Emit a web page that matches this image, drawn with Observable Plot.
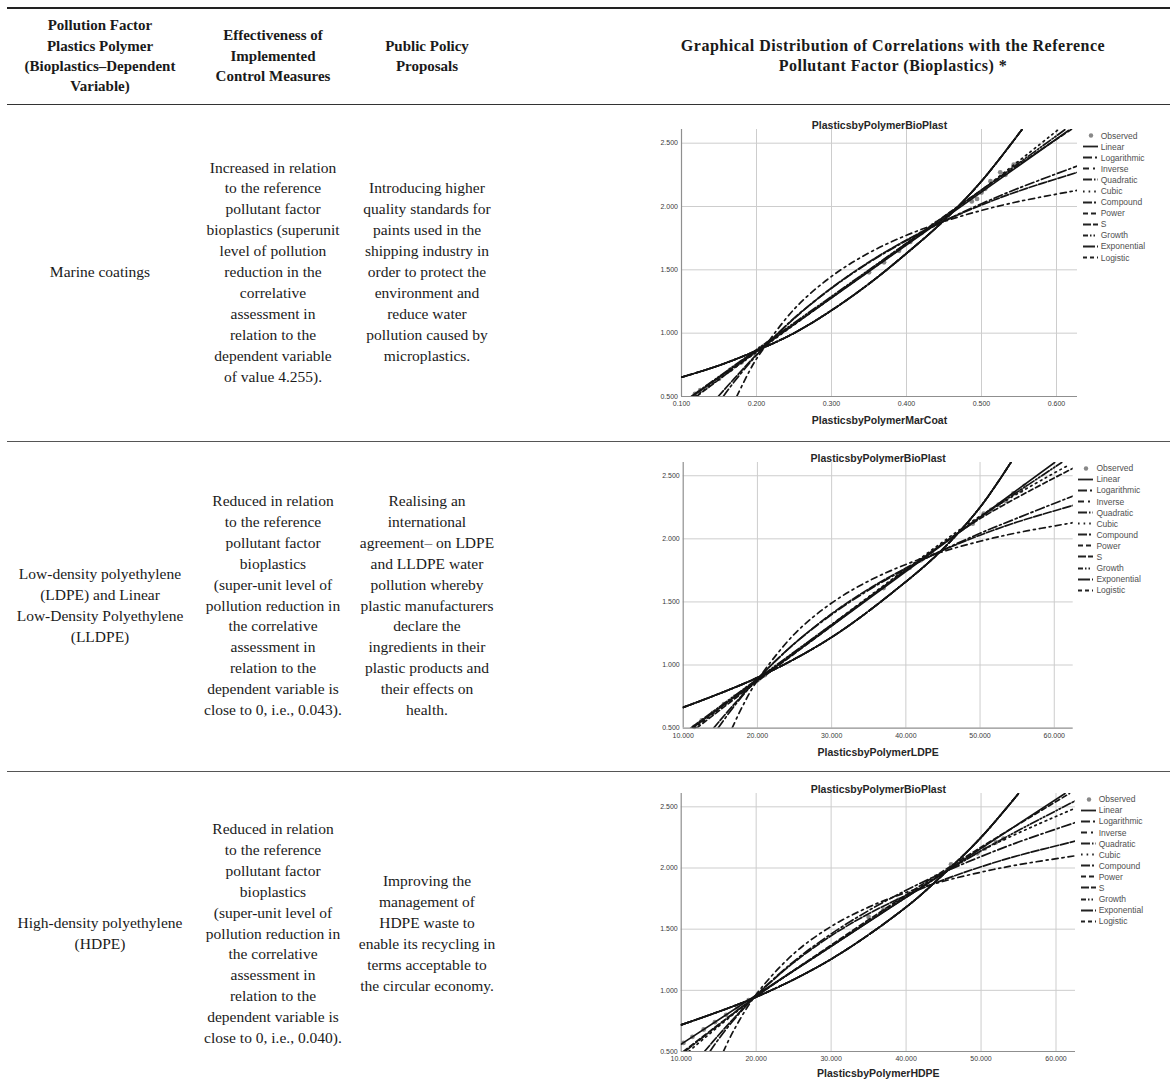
<!DOCTYPE html>
<html>
<head>
<meta charset="utf-8">
<script src="https://cdn.jsdelivr.net/npm/d3@7"></script>
<script src="https://cdn.jsdelivr.net/npm/@observablehq/plot@0.6"></script>
<style>
  html, body { margin: 0; padding: 0; background: #fff; }
  #page { position: relative; width: 1170px; height: 1089px; overflow: hidden; background: #fff; }
  .rule { position: absolute; left: 7px; right: 0; background: #222; }
  .cell {
    position: absolute; display: flex; align-items: center; justify-content: center;
    text-align: center; white-space: nowrap; color: #1a1a1a;
    font-family: "Liberation Serif", "Times New Roman", serif; font-size: 15.5px; line-height: 20.9px;
  }
  .head { font-weight: bold; font-size: 15px; line-height: 20.4px; }
  .wide { letter-spacing: 0.5px; font-size: 16px; }
  .chart { position: absolute; }
  .chart svg { overflow: visible; }
  .legend { position: absolute; font-family: "Liberation Sans", Arial, sans-serif; font-size: 8.5px; color: #505050; white-space: nowrap; }
  .legend .row { display: flex; align-items: center; height: 11.1px; }
  .legend svg { flex: none; }
</style>
</head>
<body>
<div id="page"></div>
<script>
// ---------- table text ----------
const headPollution = ["Pollution Factor", "Plastics Polymer", "(Bioplastics–Dependent", "Variable)"];
const headEffect = ["Effectiveness of", "Implemented", "Control Measures"];
const headPolicy = ["Public Policy", "Proposals"];
const headGraph = ["Graphical Distribution of Correlations with the Reference", "Pollutant Factor (Bioplastics) *"];

const factorNames = [
  ["Marine coatings"],
  ["Low-density polyethylene", "(LDPE) and Linear", "Low-Density Polyethylene", "(LLDPE)"],
  ["High-density polyethylene", "(HDPE)"]
];
const effectTexts = [
  ["Increased in relation", "to the reference", "pollutant factor", "bioplastics (superunit", "level of pollution", "reduction in the", "correlative", "assessment in", "relation to the", "dependent variable", "of value 4.255)."],
  ["Reduced in relation", "to the reference", "pollutant factor", "bioplastics", "(super-unit level of", "pollution reduction in", "the correlative", "assessment in", "relation to the", "dependent variable is", "close to 0, i.e., 0.043)."],
  ["Reduced in relation", "to the reference", "pollutant factor", "bioplastics", "(super-unit level of", "pollution reduction in", "the correlative", "assessment in", "relation to the", "dependent variable is", "close to 0, i.e., 0.040)."]
];
const policyTexts = [
  ["Introducing higher", "quality standards for", "paints used in the", "shipping industry in", "order to protect the", "environment and", "reduce water", "pollution caused by", "microplastics."],
  ["Realising an", "international", "agreement– on LDPE", "and LLDPE water", "pollution whereby", "plastic manufacturers", "declare the", "ingredients in their", "plastic products and", "their effects on", "health."],
  ["Improving the", "management of", "HDPE waste to", "enable its recycling in", "terms acceptable to", "the circular economy."]
];

// ---------- curve estimation results ----------
const modelNames = ["Linear", "Logarithmic", "Inverse", "Quadratic", "Cubic", "Compound", "Power", "S", "Growth", "Exponential", "Logistic"];
const bioPlastTicks = [0.5, 1, 1.5, 2, 2.5];

// Marine coatings
const marCoatTicks = [0.1, 0.2, 0.3, 0.4, 0.5, 0.6];
const marCoatObserved = [[0.118,0.52],[0.125,0.55],[0.135,0.58],[0.15,0.64],[0.165,0.71],[0.18,0.77],[0.195,0.84],[0.205,0.88],[0.215,0.92],[0.35,1.48],[0.37,1.56],[0.39,1.65],[0.405,1.72],[0.42,1.79],[0.435,1.85],[0.44,1.87],[0.487,2.04],[0.494,2.06],[0.5,2.11],[0.505,2.14],[0.512,2.2],[0.525,2.27],[0.532,2.25],[0.543,2.33],[0.548,2.34]];
const marCoatLinear = [[0.114,0.5],[0.616,2.6]];
const marCoatLogarithmic = [[0.1556,0.5],[0.17,0.614],[0.2,0.826],[0.25,1.118],[0.3,1.355],[0.35,1.557],[0.4,1.731],[0.45,1.885],[0.5,2.022],[0.55,2.146],[0.628,2.32]];
const marCoatInverse = [[0.1736,0.5],[0.19,0.694],[0.2,0.797],[0.25,1.188],[0.3,1.448],[0.35,1.634],[0.4,1.773],[0.45,1.882],[0.5,1.969],[0.55,2.04],[0.628,2.128]];
const marCoatQuadratic = [[0.113,0.5],[0.2,0.87],[0.3,1.29],[0.4,1.71],[0.5,2.13],[0.612,2.61]];
const marCoatCubic = [[0.118,0.5],[0.2,0.85],[0.3,1.28],[0.4,1.7],[0.5,2.13],[0.603,2.61]];
const marCoatPower = [[0.12,0.5],[0.2,0.855],[0.3,1.28],[0.4,1.71],[0.5,2.13],[0.62,2.61]];
const marCoatS = [[0.1489,0.5],[0.17,0.639],[0.2,0.83],[0.25,1.115],[0.3,1.357],[0.35,1.562],[0.4,1.736],[0.45,1.884],[0.5,2.012],[0.55,2.123],[0.628,2.27]];
const marCoatExponential = [[0.1,0.652],[0.15,0.745],[0.2,0.862],[0.25,1.0],[0.3,1.18],[0.35,1.39],[0.4,1.63],[0.45,1.89],[0.5,2.2],[0.554,2.608]];

// LDPE
const ldpeTicks = [10, 20, 30, 40, 50, 60];
const ldpeObserved = [[11.5,0.51],[12.5,0.56],[14,0.62],[15.5,0.69],[17,0.75],[18.5,0.81],[20,0.88],[21,0.92],[37,1.61],[39,1.72],[40.5,1.77],[42,1.83],[43.5,1.89],[49,2.12],[50.5,2.2],[51.5,2.23],[52.5,2.27],[53.5,2.3],[54.5,2.36],[55.5,2.38],[56,2.42]];
const ldpeLinear = [[11.2,0.5],[60.05,2.605]];
const ldpeLogarithmic = [[14.7,0.5],[17,0.684],[20,0.889],[25,1.17],[30,1.4],[35,1.594],[40,1.762],[45,1.911],[50,2.044],[55,2.164],[62.55,2.34]];
const ldpeInverse = [[16.6,0.501],[18,0.674],[20,0.878],[25,1.246],[30,1.491],[35,1.666],[40,1.797],[45,1.899],[50,1.981],[55,2.048],[62.55,2.128]];
const ldpeQuadratic = [[11.0,0.5],[20,0.89],[30,1.32],[40,1.75],[50,2.17],[61,2.605]];
const ldpeCubic = [[11.5,0.5],[20,0.88],[30,1.32],[40,1.76],[50,2.18],[61.8,2.58]];
const ldpePower = [[11.8,0.5],[20,0.87],[30,1.31],[40,1.75],[50,2.16],[62.55,2.56]];
const ldpeS = [[14.1,0.5],[15,0.563],[17,0.698],[20,0.89],[25,1.171],[30,1.406],[35,1.603],[40,1.768],[45,1.909],[50,2.029],[55,2.133],[62.55,2.265]];
const ldpeExponential = [[10,0.664],[20,0.9],[30,1.22],[40,1.66],[45,1.92],[50,2.25],[54.15,2.605]];

// HDPE
const hdpeTicks = [10, 20, 30, 40, 50, 60];
const hdpeObserved = [[10.3,0.57],[11.5,0.62],[13,0.68],[14.5,0.74],[16,0.8],[17.5,0.86],[19,0.92],[35,1.6],[37,1.66],[39,1.74],[42.5,1.87],[44,1.93],[46,2.03],[49.5,2.12],[50.5,2.16],[52,2.21],[53,2.24]];
const hdpeLinear = [[10,0.56],[61.2,2.609]];
const hdpeLogarithmic = [[13.83,0.5],[15,0.602],[17,0.757],[20,0.959],[25,1.235],[30,1.461],[35,1.652],[40,1.818],[45,1.964],[50,2.094],[55,2.212],[62.6,2.372]];
const hdpeInverse = [[15.63,0.5],[17,0.672],[20,0.966],[25,1.299],[30,1.522],[35,1.68],[40,1.8],[45,1.892],[50,1.966],[55,2.027],[62.6,2.1]];
const hdpeQuadratic = [[10.5,0.5],[20,0.95],[30,1.36],[40,1.76],[50,2.14],[62.6,2.55]];
const hdpeCubic = [[11,0.5],[20,0.95],[30,1.36],[40,1.77],[50,2.14],[62.6,2.49]];
const hdpePower = [[10.3,0.5],[20,0.95],[30,1.37],[40,1.78],[50,2.17],[61.8,2.609]];
const hdpeS = [[13.1,0.5],[15,0.635],[17,0.77],[20,0.958],[25,1.226],[30,1.446],[35,1.626],[40,1.776],[45,1.903],[50,2.01],[55,2.102],[62.6,2.22]];
const hdpeExponential = [[10,0.718],[20,0.945],[30,1.255],[40,1.68],[45,1.95],[50,2.25],[55,2.609]];

// ---------- styles ----------
const dashes = {
  Linear: null,
  Logarithmic: "9,3,2,3",
  Inverse: "6,4,2,4",
  Quadratic: "9,2,1.5,2,1.5,2",
  Cubic: "1.6,4",
  Compound: "9,2,2,2",
  Power: "5,3",
  S: "8,2",
  Growth: "5,2,1.5,2,1.5,3",
  Exponential: "12,2,1.5,2",
  Logistic: "4,3"
};

const page = document.getElementById("page");

function addRule(top, h, color) {
  const d = document.createElement("div");
  d.className = "rule";
  d.style.top = top + "px";
  d.style.height = h + "px";
  if (color) d.style.background = color;
  page.appendChild(d);
}

function addCell(lines, cx, w, top, bottom, cls) {
  const d = document.createElement("div");
  d.className = "cell" + (cls ? " " + cls : "");
  d.style.left = (cx - w / 2) + "px";
  d.style.width = w + "px";
  d.style.top = top + "px";
  d.style.height = (bottom - top) + "px";
  const inner = document.createElement("div");
  lines.forEach((t, i) => {
    if (i) inner.appendChild(document.createElement("br"));
    inner.appendChild(document.createTextNode(t));
  });
  d.appendChild(inner);
  page.appendChild(d);
}

// table rules
addRule(7, 2, "#222");
addRule(103.5, 1.3, "#333");
addRule(440.5, 1.6, "#555");
addRule(770.5, 1.6, "#555");

// header
addCell(headPollution, 100, 200, 8, 104, "head");
addCell(headEffect, 273, 160, 8, 104, "head");
addCell(headPolicy, 427, 160, 8, 104, "head");
addCell(headGraph, 893, 520, 8, 104, "head wide");

// body rows
const rowBands = [[104, 441], [441, 771], [771, 1097]];
rowBands.forEach(([t, b], i) => {
  addCell(factorNames[i], 100, 200, t, b);
  addCell(effectTexts[i], 273, 160, t, b);
  addCell(policyTexts[i], 427, 160, t, b);
});

// ---------- charts ----------
function drawChart(cfg) {
  const svgLeft = 640, svgRight = 1170;
  const mt = 24, mb = 36;
  const f = cfg.frame;
  const ml = f.left - svgLeft, mr = svgRight - f.right;
  const height = (f.bottom - f.top) + mt + mb;
  const xy = {x: d => d[0], y: d => d[1]};

  const curveMarks = modelNames.map(name =>
    Plot.line(cfg.series[name], {
      ...xy,
      stroke: "#141414",
      strokeWidth: 1.7,
      strokeDasharray: dashes[name],
      curve: "catmull-rom",
      clip: true
    })
  );

  const svg = Plot.plot({
    width: svgRight - svgLeft,
    height,
    marginLeft: ml,
    marginRight: mr,
    marginTop: mt,
    marginBottom: mb,
    style: {fontFamily: "'Liberation Sans', Arial, sans-serif", fontSize: "7px", color: "#3a3a3a", background: "transparent", overflow: "visible"},
    x: {domain: cfg.xDomain, ticks: cfg.xTicks, tickFormat: d3.format(".3f"), label: null, tickSize: 0, tickPadding: 4.5},
    y: {domain: cfg.yDomain, ticks: bioPlastTicks, tickFormat: d3.format(".3f"), label: null, tickSize: 0, tickPadding: 3.5},
    marks: [
      Plot.ruleX(cfg.xTicks.slice(1), {stroke: "#cdcdcd", strokeWidth: 1}),
      Plot.ruleY(bioPlastTicks.slice(1), {stroke: "#cdcdcd", strokeWidth: 1}),
      Plot.ruleX([cfg.xDomain[0]], {stroke: "#8f8f8f", strokeWidth: 1.2}),
      Plot.ruleY([cfg.yDomain[0]], {stroke: "#8f8f8f", strokeWidth: 1.2}),
      Plot.dot(cfg.observed, {...xy, r: 2.4, fill: "#888", stroke: "none"}),
      ...curveMarks,
      Plot.text([cfg.title], {frameAnchor: "top", dy: -8, text: d => d, fontWeight: "bold", fontSize: 10.5, fill: "#262626"}),
      Plot.text([cfg.xLabel], {frameAnchor: "bottom", dy: cfg.xLabelDy, text: d => d, fontWeight: "bold", fontSize: 10.5, fill: "#262626"})
    ]
  });

  const holder = document.createElement("div");
  holder.className = "chart";
  holder.style.left = svgLeft + "px";
  holder.style.top = (f.top - mt) + "px";
  holder.appendChild(svg);
  page.appendChild(holder);

  // legend beside the plot frame
  const lg = document.createElement("div");
  lg.className = "legend";
  lg.style.left = (f.right + 5.7) + "px";
  lg.style.top = (f.top + 1) + "px";
  const ns = "http://www.w3.org/2000/svg";
  ["Observed", ...modelNames].forEach(name => {
    const row = document.createElement("div");
    row.className = "row";
    const sw = document.createElementNS(ns, "svg");
    sw.setAttribute("width", 18);
    sw.setAttribute("height", 11);
    if (name === "Observed") {
      const c = document.createElementNS(ns, "circle");
      c.setAttribute("cx", 8); c.setAttribute("cy", 5.5); c.setAttribute("r", 2.2);
      c.setAttribute("fill", "#888");
      sw.appendChild(c);
    } else {
      const l = document.createElementNS(ns, "line");
      l.setAttribute("x1", 0); l.setAttribute("x2", 15);
      l.setAttribute("y1", 5.5); l.setAttribute("y2", 5.5);
      l.setAttribute("stroke", "#222"); l.setAttribute("stroke-width", 1.8);
      if (dashes[name]) l.setAttribute("stroke-dasharray", dashes[name]);
      sw.appendChild(l);
    }
    row.appendChild(sw);
    const t = document.createElement("span");
    t.textContent = name;
    row.appendChild(t);
    lg.appendChild(row);
  });
  page.appendChild(lg);
}

function seriesOf(linear, log, inv, quad, cubic, power, s, expo) {
  return {Linear: linear, Logarithmic: log, Inverse: inv, Quadratic: quad, Cubic: cubic,
          Compound: expo, Power: power, S: s, Growth: expo, Exponential: expo, Logistic: expo};
}

drawChart({
  title: "PlasticsbyPolymerBioPlast",
  xLabel: "PlasticsbyPolymerMarCoat",
  xLabelDy: 27,
  frame: {left: 681, right: 1077, top: 129, bottom: 396},
  xDomain: [0.1, 0.628],
  yDomain: [0.5, 2.608],
  xTicks: marCoatTicks,
  observed: marCoatObserved,
  series: seriesOf(marCoatLinear, marCoatLogarithmic, marCoatInverse, marCoatQuadratic, marCoatCubic, marCoatPower, marCoatS, marCoatExponential)
});

drawChart({
  title: "PlasticsbyPolymerBioPlast",
  xLabel: "PlasticsbyPolymerLDPE",
  xLabelDy: 27.5,
  frame: {left: 682.7, right: 1072.7, top: 461.7, bottom: 727.3},
  xDomain: [10, 62.55],
  yDomain: [0.5, 2.605],
  xTicks: ldpeTicks,
  observed: ldpeObserved,
  series: seriesOf(ldpeLinear, ldpeLogarithmic, ldpeInverse, ldpeQuadratic, ldpeCubic, ldpePower, ldpeS, ldpeExponential)
});

drawChart({
  title: "PlasticsbyPolymerBioPlast",
  xLabel: "PlasticsbyPolymerHDPE",
  xLabelDy: 25.5,
  frame: {left: 680.7, right: 1075, top: 792.7, bottom: 1050.7},
  xDomain: [10, 62.6],
  yDomain: [0.5, 2.609],
  xTicks: hdpeTicks,
  observed: hdpeObserved,
  series: seriesOf(hdpeLinear, hdpeLogarithmic, hdpeInverse, hdpeQuadratic, hdpeCubic, hdpePower, hdpeS, hdpeExponential)
});
</script>
</body>
</html>
